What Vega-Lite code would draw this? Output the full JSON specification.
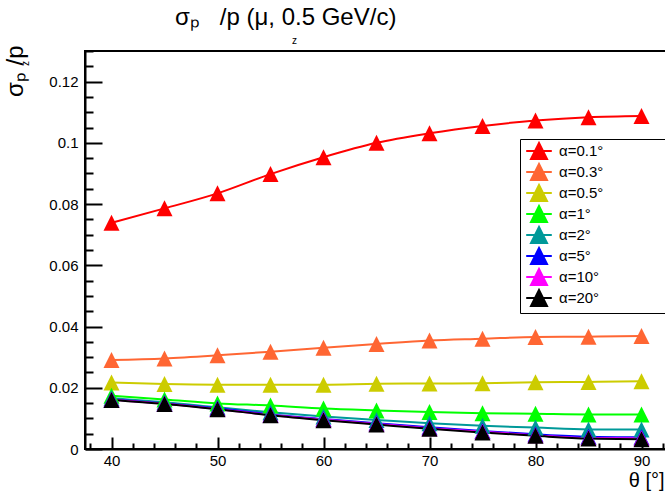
{
  "$schema": "https://vega.github.io/schema/vega-lite/v6.json",
  "width": 583,
  "height": 398,
  "autosize": {"type": "none"},
  "padding": {"left": 85, "top": 51, "right": 0, "bottom": 48},
  "background": "white",
  "config": {
    "font": "Liberation Sans",
    "view": {"stroke": "black", "strokeWidth": 2}
  },
  "title": {
    "text": "σₚ\u00a0\u00a0\u00a0/p (μ, 0.5 GeV/c)",
    "font": "Liberation Sans",
    "fontSize": 24,
    "fontWeight": "normal",
    "color": "black",
    "anchor": "start",
    "dx": 172,
    "dy": 14,
    "baseline": "alphabetic",
    "offset": 0
  },
  "data": {
    "values": [
      {"theta": 40, "sigma": 0.0739, "alpha": "α=0.1°"},
      {"theta": 45, "sigma": 0.0786, "alpha": "α=0.1°"},
      {"theta": 50, "sigma": 0.0835, "alpha": "α=0.1°"},
      {"theta": 55, "sigma": 0.0898, "alpha": "α=0.1°"},
      {"theta": 60, "sigma": 0.0953, "alpha": "α=0.1°"},
      {"theta": 65, "sigma": 0.1000, "alpha": "α=0.1°"},
      {"theta": 70, "sigma": 0.1031, "alpha": "α=0.1°"},
      {"theta": 75, "sigma": 0.1055, "alpha": "α=0.1°"},
      {"theta": 80, "sigma": 0.1073, "alpha": "α=0.1°"},
      {"theta": 85, "sigma": 0.1084, "alpha": "α=0.1°"},
      {"theta": 90, "sigma": 0.1088, "alpha": "α=0.1°"},
      {"theta": 40, "sigma": 0.0291, "alpha": "α=0.3°"},
      {"theta": 45, "sigma": 0.0296, "alpha": "α=0.3°"},
      {"theta": 50, "sigma": 0.0306, "alpha": "α=0.3°"},
      {"theta": 55, "sigma": 0.0318, "alpha": "α=0.3°"},
      {"theta": 60, "sigma": 0.0331, "alpha": "α=0.3°"},
      {"theta": 65, "sigma": 0.0343, "alpha": "α=0.3°"},
      {"theta": 70, "sigma": 0.0354, "alpha": "α=0.3°"},
      {"theta": 75, "sigma": 0.0360, "alpha": "α=0.3°"},
      {"theta": 80, "sigma": 0.0366, "alpha": "α=0.3°"},
      {"theta": 85, "sigma": 0.0367, "alpha": "α=0.3°"},
      {"theta": 90, "sigma": 0.0369, "alpha": "α=0.3°"},
      {"theta": 40, "sigma": 0.0217, "alpha": "α=0.5°"},
      {"theta": 45, "sigma": 0.0212, "alpha": "α=0.5°"},
      {"theta": 50, "sigma": 0.0210, "alpha": "α=0.5°"},
      {"theta": 55, "sigma": 0.0210, "alpha": "α=0.5°"},
      {"theta": 60, "sigma": 0.0210, "alpha": "α=0.5°"},
      {"theta": 65, "sigma": 0.0213, "alpha": "α=0.5°"},
      {"theta": 70, "sigma": 0.0214, "alpha": "α=0.5°"},
      {"theta": 75, "sigma": 0.0215, "alpha": "α=0.5°"},
      {"theta": 80, "sigma": 0.0218, "alpha": "α=0.5°"},
      {"theta": 85, "sigma": 0.0219, "alpha": "α=0.5°"},
      {"theta": 90, "sigma": 0.0221, "alpha": "α=0.5°"},
      {"theta": 40, "sigma": 0.0174, "alpha": "α=1°"},
      {"theta": 45, "sigma": 0.0162, "alpha": "α=1°"},
      {"theta": 50, "sigma": 0.0149, "alpha": "α=1°"},
      {"theta": 55, "sigma": 0.0142, "alpha": "α=1°"},
      {"theta": 60, "sigma": 0.0132, "alpha": "α=1°"},
      {"theta": 65, "sigma": 0.0126, "alpha": "α=1°"},
      {"theta": 70, "sigma": 0.0121, "alpha": "α=1°"},
      {"theta": 75, "sigma": 0.0117, "alpha": "α=1°"},
      {"theta": 80, "sigma": 0.0115, "alpha": "α=1°"},
      {"theta": 85, "sigma": 0.0113, "alpha": "α=1°"},
      {"theta": 90, "sigma": 0.0113, "alpha": "α=1°"},
      {"theta": 40, "sigma": 0.0166, "alpha": "α=2°"},
      {"theta": 45, "sigma": 0.0153, "alpha": "α=2°"},
      {"theta": 50, "sigma": 0.0136, "alpha": "α=2°"},
      {"theta": 55, "sigma": 0.0120, "alpha": "α=2°"},
      {"theta": 60, "sigma": 0.0106, "alpha": "α=2°"},
      {"theta": 65, "sigma": 0.0095, "alpha": "α=2°"},
      {"theta": 70, "sigma": 0.0084, "alpha": "α=2°"},
      {"theta": 75, "sigma": 0.0076, "alpha": "α=2°"},
      {"theta": 80, "sigma": 0.0070, "alpha": "α=2°"},
      {"theta": 85, "sigma": 0.0064, "alpha": "α=2°"},
      {"theta": 90, "sigma": 0.0064, "alpha": "α=2°"},
      {"theta": 40, "sigma": 0.0162, "alpha": "α=5°"},
      {"theta": 45, "sigma": 0.0149, "alpha": "α=5°"},
      {"theta": 50, "sigma": 0.0133, "alpha": "α=5°"},
      {"theta": 55, "sigma": 0.0113, "alpha": "α=5°"},
      {"theta": 60, "sigma": 0.0098, "alpha": "α=5°"},
      {"theta": 65, "sigma": 0.0084, "alpha": "α=5°"},
      {"theta": 70, "sigma": 0.0071, "alpha": "α=5°"},
      {"theta": 75, "sigma": 0.0059, "alpha": "α=5°"},
      {"theta": 80, "sigma": 0.0048, "alpha": "α=5°"},
      {"theta": 85, "sigma": 0.0040, "alpha": "α=5°"},
      {"theta": 90, "sigma": 0.0038, "alpha": "α=5°"},
      {"theta": 40, "sigma": 0.0161, "alpha": "α=10°"},
      {"theta": 45, "sigma": 0.0148, "alpha": "α=10°"},
      {"theta": 50, "sigma": 0.0131, "alpha": "α=10°"},
      {"theta": 55, "sigma": 0.0111, "alpha": "α=10°"},
      {"theta": 60, "sigma": 0.0096, "alpha": "α=10°"},
      {"theta": 65, "sigma": 0.0082, "alpha": "α=10°"},
      {"theta": 70, "sigma": 0.0068, "alpha": "α=10°"},
      {"theta": 75, "sigma": 0.0056, "alpha": "α=10°"},
      {"theta": 80, "sigma": 0.0045, "alpha": "α=10°"},
      {"theta": 85, "sigma": 0.0036, "alpha": "α=10°"},
      {"theta": 90, "sigma": 0.0035, "alpha": "α=10°"},
      {"theta": 40, "sigma": 0.0160, "alpha": "α=20°"},
      {"theta": 45, "sigma": 0.0147, "alpha": "α=20°"},
      {"theta": 50, "sigma": 0.0130, "alpha": "α=20°"},
      {"theta": 55, "sigma": 0.0110, "alpha": "α=20°"},
      {"theta": 60, "sigma": 0.0094, "alpha": "α=20°"},
      {"theta": 65, "sigma": 0.0080, "alpha": "α=20°"},
      {"theta": 70, "sigma": 0.0066, "alpha": "α=20°"},
      {"theta": 75, "sigma": 0.0054, "alpha": "α=20°"},
      {"theta": 80, "sigma": 0.0043, "alpha": "α=20°"},
      {"theta": 85, "sigma": 0.0034, "alpha": "α=20°"},
      {"theta": 90, "sigma": 0.0032, "alpha": "α=20°"}
    ]
  },
  "layer": [
    {
      "mark": {"type": "line", "interpolate": "monotone", "strokeWidth": 2},
      "encoding": {
        "x": {
          "field": "theta",
          "type": "quantitative",
          "scale": {"domain": [37.5, 92.5], "nice": false, "zero": false},
          "axis": {
            "orient": "bottom",
            "values": [38, 40, 42, 44, 46, 48, 50, 52, 54, 56, 58, 60, 62, 64, 66, 68, 70, 72, 74, 76, 78, 80, 82, 84, 86, 88, 90, 92],
            "labelExpr": "datum.value % 10 == 0 ? format(datum.value, 'd') : ''",
            "labelOverlap": false,
            "labelFlush": false,
            "labelFont": "Liberation Sans",
            "labelFontSize": 15,
            "labelColor": "black",
            "labelPadding": 16,
            "tickSize": {"condition": {"test": "datum.value % 10 == 0", "value": -12}, "value": -6},
            "tickWidth": 2,
            "tickColor": "black",
            "domainColor": "black",
            "domainWidth": 2,
            "grid": false,
            "title": "θ [°]",
            "titleFont": "Liberation Sans",
            "titleFontSize": 20,
            "titleFontWeight": "normal",
            "titleColor": "black",
            "titleAlign": "right",
            "titleBaseline": "alphabetic",
            "titleX": 579,
            "titleY": 37
          }
        },
        "y": {
          "field": "sigma",
          "type": "quantitative",
          "scale": {"domain": [0, 0.13], "nice": false, "zero": false},
          "axis": {
            "orient": "left",
            "values": [0, 0.005, 0.01, 0.015, 0.02, 0.025, 0.03, 0.035, 0.04, 0.045, 0.05, 0.055, 0.06, 0.065, 0.07, 0.075, 0.08, 0.085, 0.09, 0.095, 0.1, 0.105, 0.11, 0.115, 0.12, 0.125, 0.13],
            "labelExpr": "abs(datum.value * 50 - round(datum.value * 50)) < 1e-6 ? format(datum.value, '~g') : ''",
            "labelOverlap": false,
            "labelFlush": false,
            "labelFont": "Liberation Sans",
            "labelFontSize": 15,
            "labelColor": "black",
            "labelPadding": 24,
            "tickSize": {"condition": {"test": "abs(datum.value * 50 - round(datum.value * 50)) < 1e-6", "value": -17}, "value": -8},
            "tickWidth": 2,
            "tickColor": "black",
            "domainColor": "black",
            "domainWidth": 2,
            "grid": false,
            "title": "σₚ\u00a0/p",
            "titleFont": "Liberation Sans",
            "titleFontSize": 24,
            "titleFontWeight": "normal",
            "titleColor": "black",
            "titleAngle": -90,
            "titleAlign": "right",
            "titleBaseline": "alphabetic",
            "titleX": -63,
            "titleY": -6
          }
        },
        "color": {
          "field": "alpha",
          "type": "nominal",
          "scale": {
            "domain": ["α=0.1°", "α=0.3°", "α=0.5°", "α=1°", "α=2°", "α=5°", "α=10°", "α=20°"],
            "range": ["#ff0000", "#ff6633", "#cccc00", "#00ff00", "#009999", "#0000ff", "#ff00ff", "#000000"]
          },
          "legend": {
            "orient": "none",
            "legendX": 435,
            "legendY": 88,
            "title": null,
            "padding": 3,
            "fillColor": "white",
            "strokeColor": "black",
            "symbolType": "M0,-1L1,1L-1,1ZM-1.6,0H1.6",
            "symbolSize": 256,
            "symbolOffset": 7,
            "symbolStrokeWidth": 2,
            "symbolOpacity": 1,
            "labelOffset": 11,
            "rowPadding": -3,
            "labelFont": "Liberation Sans",
            "labelFontSize": 15,
            "labelColor": "black",
            "labelExpr": "datum.label + '\u00a0\u00a0\u00a0\u00a0\u00a0\u00a0\u00a0\u00a0\u00a0\u00a0\u00a0\u00a0\u00a0\u00a0\u200b'",
            "encoding": {
              "legend": {"update": {"strokeWidth": {"value": 2}}},
              "symbols": {
                "update": {
                  "fill": {"scale": "color", "field": "value"},
                  "stroke": {"scale": "color", "field": "value"}
                }
              }
            }
          }
        }
      }
    },
    {
      "mark": {"type": "point", "shape": "M0,-1L1,1L-1,1Z", "filled": true, "size": 256, "opacity": 1},
      "encoding": {
        "x": {
          "field": "theta",
          "type": "quantitative",
          "axis": {
            "orient": "top",
            "domain": false,
            "ticks": false,
            "labels": false,
            "grid": false,
            "title": "z",
            "titleFont": "Liberation Sans",
            "titleFontSize": 10,
            "titleFontWeight": "normal",
            "titleColor": "black",
            "titleAlign": "center",
            "titleBaseline": "alphabetic",
            "titleX": 209,
            "titleY": -8
          }
        },
        "y": {
          "field": "sigma",
          "type": "quantitative",
          "axis": {
            "orient": "right",
            "domain": false,
            "ticks": false,
            "labels": false,
            "grid": false,
            "title": "z",
            "titleFont": "Liberation Sans",
            "titleFontSize": 10,
            "titleFontWeight": "normal",
            "titleColor": "black",
            "titleAngle": -90,
            "titleAlign": "center",
            "titleBaseline": "alphabetic",
            "titleX": -640,
            "titleY": 12
          }
        },
        "color": {
          "field": "alpha",
          "type": "nominal",
          "legend": {
            "orient": "none",
            "legendX": 435,
            "legendY": 88,
            "title": null,
            "padding": 3,
            "fillColor": "white",
            "strokeColor": "black",
            "symbolType": "M0,-1L1,1L-1,1ZM-1.6,0H1.6",
            "symbolSize": 256,
            "symbolOffset": 7,
            "symbolStrokeWidth": 2,
            "symbolOpacity": 1,
            "labelOffset": 11,
            "rowPadding": -3,
            "labelFont": "Liberation Sans",
            "labelFontSize": 15,
            "labelColor": "black",
            "labelExpr": "datum.label + '\u00a0\u00a0\u00a0\u00a0\u00a0\u00a0\u00a0\u00a0\u00a0\u00a0\u00a0\u00a0\u00a0\u00a0\u200b'",
            "encoding": {
              "legend": {"update": {"strokeWidth": {"value": 2}}},
              "symbols": {
                "update": {
                  "fill": {"scale": "color", "field": "value"},
                  "stroke": {"scale": "color", "field": "value"}
                }
              }
            }
          }
        }
      }
    }
  ],
  "resolve": {"axis": {"x": "independent", "y": "independent"}}
}
